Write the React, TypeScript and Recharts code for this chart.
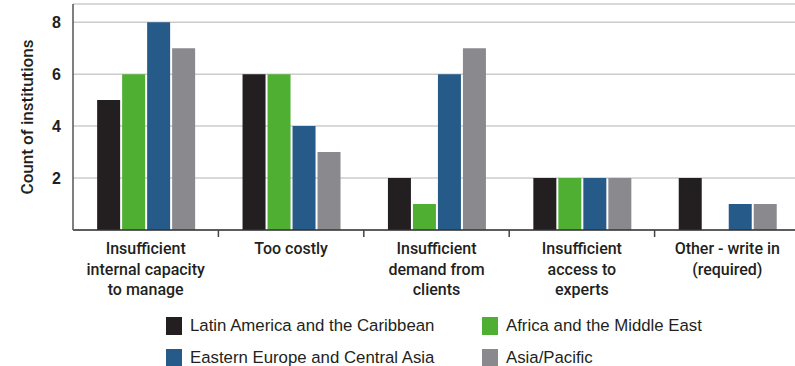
import React from "react";
import { BarChart, Bar, XAxis, YAxis, CartesianGrid, Legend } from "recharts";

const categories = [
  "Insufficient internal capacity to manage",
  "Too costly",
  "Insufficient demand from clients",
  "Insufficient access to experts",
  "Other - write in (required)",
];
const labelLines = [
  ["Insufficient", "internal capacity", "to manage"],
  ["Too costly"],
  ["Insufficient", "demand from", "clients"],
  ["Insufficient", "access to", "experts"],
  ["Other - write in", "(required)"],
];
const latinAmerica = [5, 6, 2, 2, 2];
const africaMiddleEast = [6, 6, 1, 2, 0];
const easternEurope = [8, 4, 6, 2, 1];
const asiaPacific = [7, 3, 7, 2, 1];
const yTicks = [2, 4, 6, 8];

const seriesNames = [
  "Latin America and the Caribbean",
  "Africa and the Middle East",
  "Eastern Europe and Central Asia",
  "Asia/Pacific",
];
const colors = ["#231f20", "#4faf32", "#265a88", "#8a898e"];

const data = categories.map((c, i) => ({
  name: c,
  la: latinAmerica[i],
  ame: africaMiddleEast[i],
  eeca: easternEurope[i],
  ap: asiaPacific[i],
}));

const labelFont = "Roboto, 'Liberation Sans', sans-serif";
const mainFont = "'Liberation Sans', Arial, sans-serif";

const XTick = (props: any) => {
  const { x, y, payload, index, width, visibleTicksCount } = props;
  const half =
    payload && typeof payload.offset === "number" && payload.offset > 0
      ? payload.offset
      : width / (visibleTicksCount || 5) / 2;
  const lines = labelLines[index] || [String(payload.value)];
  return (
    <g>
      {index < categories.length - 1 && (
        <line x1={x + half} x2={x + half} y1={y} y2={y + 7} stroke="#444" strokeWidth={1.5} />
      )}
      <text
        x={x}
        y={y}
        textAnchor="middle"
        fontFamily={labelFont}
        fontSize={16}
        fontWeight={500}
        fill="#231f20"
      >
        {lines.map((l, i) => (
          <tspan key={i} x={x} y={y + 24 + i * 20.5}>
            {l}
          </tspan>
        ))}
      </text>
    </g>
  );
};

const renderLegend = () => {
  const pos = [
    { left: 166, top: 10 },
    { left: 482, top: 10 },
    { left: 166, top: 42 },
    { left: 482, top: 42 },
  ];
  return (
    <div style={{ position: "relative", width: 795, height: 60 }}>
      {seriesNames.map((n, i) => (
        <div
          key={n}
          style={{
            position: "absolute",
            left: pos[i].left,
            top: pos[i].top,
            display: "flex",
            alignItems: "center",
            fontFamily: mainFont,
            fontSize: 16.8,
            color: "#231f20",
            whiteSpace: "nowrap",
          }}
        >
          <span
            style={{
              display: "inline-block",
              width: 16,
              height: 18,
              background: colors[i],
              marginRight: 8,
            }}
          />
          {n}
        </div>
      ))}
    </div>
  );
};

export default function App() {
  return (
    <div
      style={{
        position: "absolute",
        left: 0,
        top: 0,
        width: 795,
        height: 366,
        overflow: "hidden",
        background: "#fff",
      }}
    >
      <BarChart
        width={800}
        height={366}
        data={data}
        margin={{ top: 4, right: 0, left: 0, bottom: 0 }}
        barCategoryGap="16.6%"
        barGap={2}
      >
        <CartesianGrid vertical={false} stroke="#cccccc" strokeWidth={1.5} />
        <XAxis
          dataKey="name"
          height={136}
          interval={0}
          tickLine={false}
          tickSize={0}
          tickMargin={0}
          axisLine={{ stroke: "#333", strokeWidth: 1.5 }}
          tick={<XTick />}
        />
        <YAxis
          width={73}
          domain={[0, 8.7]}
          ticks={yTicks}
          tickLine={false}
          tickSize={0}
          tickMargin={12}
          axisLine={{ stroke: "#555", strokeWidth: 1.5 }}
          tick={{ fontFamily: mainFont, fontSize: 16, fontWeight: "bold", fill: "#231f20" }}
          label={{
            content: (p: any) => {
              const vb = p.viewBox || { x: 0, y: 4, width: 73, height: 226 };
              const cx = 27;
              const cy = vb.y + vb.height / 2;
              return (
                <text
                  x={cx}
                  y={cy}
                  transform={`rotate(-90 ${cx} ${cy})`}
                  textAnchor="middle"
                  dominantBaseline="central"
                  fontFamily={labelFont}
                  fontSize={17}
                  fontWeight={500}
                  fill="#231f20"
                >
                  Count of institutions
                </text>
              );
            },
          }}
        />
        <Legend
          layout="horizontal"
          verticalAlign="middle"
          align="center"
          wrapperStyle={{ top: 306, left: 0, width: 795 }}
          content={renderLegend}
        />
        <Bar dataKey="la" name={seriesNames[0]} fill={colors[0]} isAnimationActive={false} />
        <Bar dataKey="ame" name={seriesNames[1]} fill={colors[1]} isAnimationActive={false} />
        <Bar dataKey="eeca" name={seriesNames[2]} fill={colors[2]} isAnimationActive={false} />
        <Bar dataKey="ap" name={seriesNames[3]} fill={colors[3]} isAnimationActive={false} />
      </BarChart>
    </div>
  );
}
